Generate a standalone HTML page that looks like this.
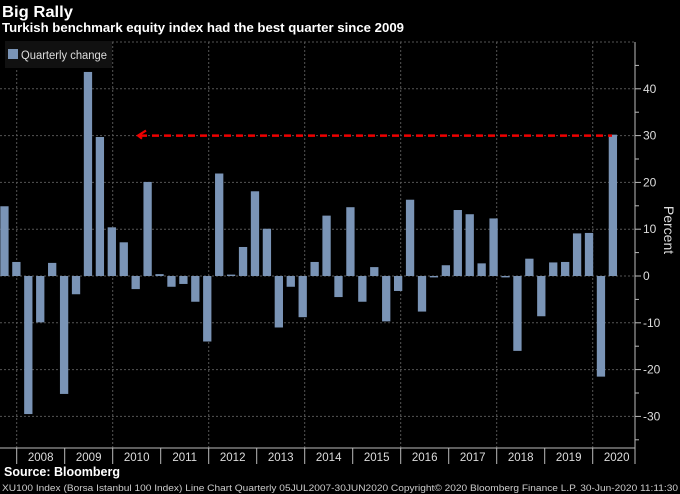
<!DOCTYPE html>
<html><head><meta charset="utf-8"><style>
html,body{margin:0;padding:0;background:#000;width:680px;height:494px;overflow:hidden}
svg{display:block;font-family:"Liberation Sans",sans-serif}
</style></head><body>
<svg id="c" width="680" height="494">
<text x="2" y="17" fill="#fff" font-size="16" font-weight="bold" textLength="71" lengthAdjust="spacingAndGlyphs">Big Rally</text>
<text x="2" y="32" fill="#fff" font-size="12.5" font-weight="bold" textLength="402" lengthAdjust="spacingAndGlyphs">Turkish benchmark equity index had the best quarter since 2009</text>
<g id="grid"></g>
<g id="bars"></g>
<g id="axis"></g>
<rect x="5" y="41" width="107" height="27" fill="#111"/>
<rect x="8" y="49" width="10" height="10" fill="#7a94b6"/>
<text x="21" y="59" fill="#ddd" font-size="11.5" textLength="86" lengthAdjust="spacingAndGlyphs">Quarterly change</text>
<text x="4" y="476" fill="#fff" font-size="12.5" font-weight="bold">Source: Bloomberg</text>
<text x="2" y="491" fill="#ccc" font-size="9" textLength="676" lengthAdjust="spacingAndGlyphs">XU100 Index (Borsa Istanbul 100 Index) Line Chart  Quarterly 05JUL2007-30JUN2020     Copyright© 2020 Bloomberg Finance L.P.     30-Jun-2020 11:11:30</text>
</svg>
<script>
const values=[14.9,3.0,-29.5,-9.9,2.8,-25.2,-3.9,43.6,29.7,10.4,7.2,-2.8,20.1,0.4,-2.3,-1.7,-5.5,-14.0,21.9,0.3,6.2,18.1,10.1,-11.0,-2.3,-8.8,3.0,12.9,-4.5,14.7,-5.5,1.9,-9.7,-3.2,16.3,-7.6,-0.3,2.3,14.1,13.2,2.7,12.3,-0.3,-16.0,3.7,-8.6,2.9,3.0,9.1,9.2,-21.5,30.2];
const years=["2008","2009","2010","2011","2012","2013","2014","2015","2016","2017","2018","2019","2020"];
const yTicks=[40,30,20,10,0,-10,-20,-30];
const refValue=30;
const NS="http://www.w3.org/2000/svg";
const y=v=>276-v*4.68;
const xBar=i=>0.3+i*11.93;
const xYear=k=>16.7+k*48;
function mk(t,a,p){const e=document.createElementNS(NS,t);for(const k in a)e.setAttribute(k,a[k]);document.getElementById(p).appendChild(e);return e;}
mk('line',{x1:112,x2:635,y1:42,y2:42,stroke:'#555','stroke-dasharray':'2,2'},'grid');
yTicks.forEach(v=>{const l=mk('line',{x1:0,x2:635,y1:y(v),y2:y(v),stroke:'#555','stroke-dasharray':'2,2'},'grid');

});
for(let k=0;k<years.length;k+=2){const l=mk('line',{x1:xYear(k),x2:xYear(k),y1:42,y2:448,stroke:'#555','stroke-dasharray':'2,2'},'grid');

}
values.forEach((v,i)=>{const r=mk('rect',{x:xBar(i),width:8.3,y:Math.min(y(v),y(0)),height:Math.max(0.8,Math.abs(y(v)-y(0))),fill:'#7a94b6'},'bars');

});
const rl=mk('line',{x1:140,x2:612,y1:y(refValue),y2:y(refValue),stroke:'#e00','stroke-width':2.5,'stroke-dasharray':'7,5'},'bars');


const ar=mk('path',{d:`M146 ${y(refValue)-5} L138 ${y(refValue)} L142 ${y(refValue)+3}`,stroke:'#e00','stroke-width':2.2,fill:'none'},'bars');


mk('line',{x1:635,x2:635,y1:42,y2:464,stroke:'#bbb'},'axis');
mk('line',{x1:0,x2:635,y1:448,y2:448,stroke:'#bbb'},'axis');
for(let v=-35;v<=45;v+=5){mk('line',{x1:635,x2:v%10===0?641:639,y1:y(v),y2:y(v),stroke:'#bbb'},'axis');}
yTicks.forEach(v=>{const t=mk('text',{x:643,y:y(v)+4,fill:'#ddd','font-size':12},'axis');t.textContent=v;

});
const pt=mk('text',{x:0,y:0,fill:'#ddd','font-size':14,transform:'translate(664,230) rotate(90)','text-anchor':'middle'},'axis');pt.textContent='Percent';


years.forEach((yr,k)=>{mk('line',{x1:xYear(k),x2:xYear(k),y1:448,y2:464,stroke:'#bbb'},'axis');
const t=mk('text',{x:xYear(k)+24,y:461,fill:'#ddd','font-size':11.5,'text-anchor':'middle'},'axis');t.textContent=yr;

});
</script>
</body></html>
